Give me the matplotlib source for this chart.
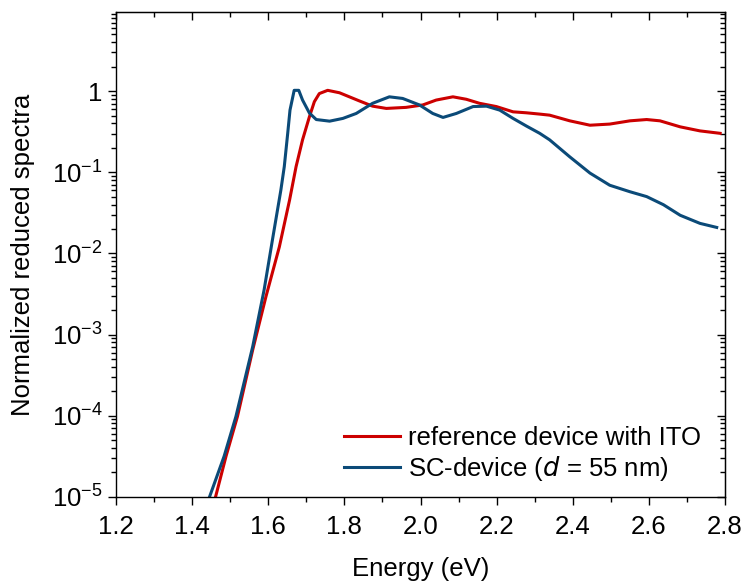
import numpy as np
import matplotlib.pyplot as plt
from matplotlib.ticker import FixedLocator, LogLocator, MultipleLocator, NullFormatter

plt.rcParams['font.family'] = ['Liberation Sans', 'DejaVu Sans']
plt.rcParams['mathtext.default'] = 'regular'

# reference device with ITO: energy (eV), log10 of normalized spectrum
ref_e = [1.450, 1.461, 1.489, 1.519, 1.559, 1.594, 1.629, 1.656, 1.673, 1.690, 1.708, 1.721,
         1.734, 1.756, 1.787, 1.839, 1.874, 1.910, 1.962, 2.006, 2.041, 2.085, 2.120, 2.155,
         2.199, 2.243, 2.278, 2.313, 2.339, 2.392, 2.445, 2.497, 2.550, 2.594, 2.629, 2.682,
         2.734, 2.787]
ref_log = [-5.2, -5.01, -4.50, -4.01, -3.19, -2.53, -1.92, -1.34, -0.93, -0.60, -0.316, -0.13,
           -0.03, 0.01, -0.02, -0.12, -0.185, -0.213, -0.20, -0.17, -0.11, -0.07, -0.10, -0.15,
           -0.19, -0.255, -0.267, -0.283, -0.296, -0.366, -0.42, -0.406, -0.366, -0.35, -0.366, -0.44,
           -0.49, -0.52]

# SC-device (d = 55 nm)
sc_e = [1.435, 1.445, 1.484, 1.515, 1.559, 1.589, 1.611, 1.633, 1.642, 1.651, 1.657, 1.668,
        1.680, 1.690, 1.708, 1.726, 1.761, 1.796, 1.831, 1.874, 1.918, 1.953, 1.997, 2.032,
        2.059, 2.094, 2.138, 2.173, 2.208, 2.243, 2.278, 2.313, 2.339, 2.392, 2.445, 2.497,
        2.550, 2.594, 2.638, 2.682, 2.734, 2.778]
sc_log = [-5.2, -5.01, -4.50, -4.01, -3.15, -2.45, -1.83, -1.22, -0.93, -0.52, -0.234, 0.01,
          0.01, -0.11, -0.27, -0.35, -0.37, -0.336, -0.275, -0.15, -0.07, -0.09, -0.17, -0.275,
          -0.324, -0.275, -0.19, -0.185, -0.234, -0.336, -0.43, -0.52, -0.60, -0.81, -1.01, -1.16,
          -1.24, -1.30, -1.40, -1.53, -1.63, -1.68]

yticks = [1e-5, 1e-4, 1e-3, 1e-2, 1e-1, 1]
ylabels = ['10$^{-5}$', '10$^{-4}$', '10$^{-3}$', '10$^{-2}$', '10$^{-1}$', '1']

fs = 18.5

fig = plt.figure(figsize=(7.51, 5.81), dpi=100)
ax = fig.add_axes([0.1545, 0.145, 0.811, 0.834])

ax.plot(ref_e, 10 ** np.array(ref_log), color='#cc0000', lw=2.2, label='reference device with ITO')
ax.plot(sc_e, 10 ** np.array(sc_log), color='#0b4a78', lw=2.2, label='SC-device ($\\it{d}$ = 55 nm)')

ax.set_yscale('log')
ax.set_xlim(1.2, 2.8)
ax.set_ylim(1e-5, 9.4)
ax.xaxis.set_major_locator(MultipleLocator(0.2))
ax.xaxis.set_minor_locator(MultipleLocator(0.1))
ax.xaxis.set_major_formatter(plt.FuncFormatter(lambda v, p: '%.1f' % v))
ax.yaxis.set_major_locator(FixedLocator(yticks))
ax.set_yticklabels(ylabels)
ax.yaxis.set_minor_locator(LogLocator(base=10, subs=np.arange(2, 10), numticks=20))
ax.yaxis.set_minor_formatter(NullFormatter())
ax.tick_params(which='both', direction='out', labelsize=fs, width=1)
ax.tick_params(which='major', length=6)
ax.tick_params(axis='x', which='major', pad=7)
ax.tick_params(which='minor', length=3.5)

# mirrored ticks pointing inward on top and right
top = ax.secondary_xaxis('top')
top.xaxis.set_major_locator(MultipleLocator(0.2))
top.xaxis.set_minor_locator(MultipleLocator(0.1))
top.tick_params(which='both', direction='in', labeltop=False, width=1)
top.tick_params(which='major', length=6)
top.tick_params(which='minor', length=3.5)
right = ax.secondary_yaxis('right')
right.yaxis.set_major_locator(FixedLocator(yticks))
right.yaxis.set_minor_locator(LogLocator(base=10, subs=np.arange(2, 10), numticks=20))
right.tick_params(which='both', direction='in', labelright=False, width=1)
right.tick_params(which='major', length=6)
right.tick_params(which='minor', length=3.5)

for s in ax.spines.values():
    s.set_linewidth(1)

ax.set_xlabel('Energy (eV)', fontsize=fs, labelpad=13)
ax.set_ylabel('Normalized reduced spectra', fontsize=fs, labelpad=12)

ax.legend(loc='lower right', bbox_to_anchor=(0.998, -0.02), frameon=False, fontsize=fs,
          handlelength=2.2, handletextpad=0.3, labelspacing=0.15)

fig.savefig('out.png', dpi=100)
